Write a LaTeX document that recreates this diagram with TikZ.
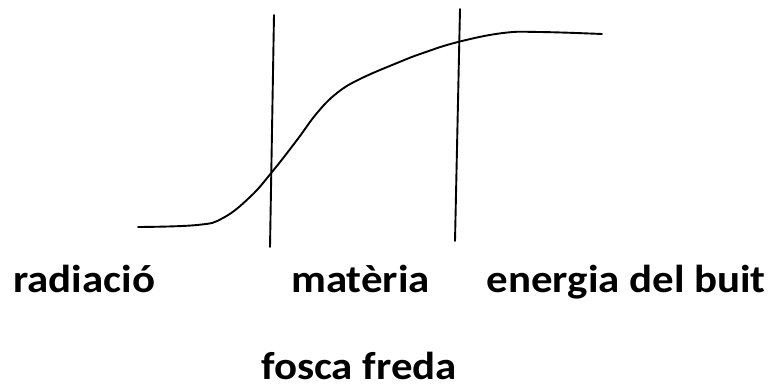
\documentclass[tikz,border=0pt]{standalone}
\usepackage{fontspec}
\setmainfont{Carlito}
\begin{document}
\begin{tikzpicture}[x=1pt,y=-1pt,
  curve/.style={line width=1.9pt,line join=round,line cap=round},
  lbl/.style={font=\fontsize{39}{46}\selectfont\bfseries,inner sep=0pt,xscale=1.1}]
\useasboundingbox (0,0) rectangle (776,384);
\draw[curve] plot[smooth,tension=0.7] coordinates {(138,227) (197,225) (223,218) (250,197) (272,172) (297,140) (317,113) (337,93) (360,79) (397,63) (423,53) (458,42) (503,33) (540,32) (602,34)};
\coordinate (l1t) at (274,15);
\coordinate (l1b) at (270,247);
\coordinate (l2t) at (460,9);
\coordinate (l2b) at (455,241);
\draw[curve] (l1t) -- (l1b);
\draw[curve] (l2t) -- (l2b);
\node[lbl,anchor=base west] (rad) at (13,292) {radiació};
\node[lbl,anchor=base west] (mat) at (291,292) {matèria};
\node[lbl,anchor=base east] (ene) at (766,292) {energia del buit};
\node[lbl,anchor=base] (fos) at (359,379) {fosca freda};
\end{tikzpicture}
\end{document}
